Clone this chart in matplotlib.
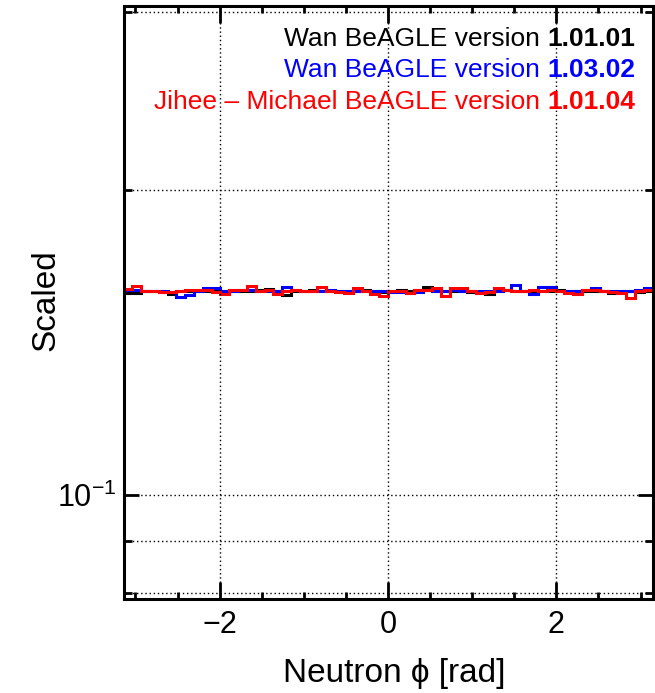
import numpy as np
import matplotlib
matplotlib.use("Agg")
import matplotlib.pyplot as plt
from matplotlib.ticker import FixedLocator, FixedFormatter, NullFormatter

plt.rcParams['font.family'] = ['Liberation Sans', 'DejaVu Sans']
plt.rcParams['mathtext.default'] = 'regular'

# 60 bins in phi from -pi to pi
n_bins = 60
phi_edges = np.linspace(-np.pi, np.pi, n_bins + 1)

# normalised neutron phi distributions, one per BeAGLE version
wan_10101 = [
    0.1583, 0.1584, 0.1590, 0.1589, 0.1587, 0.1580, 0.1588, 0.1590, 0.1591, 0.1589,
    0.1590, 0.1588, 0.1591, 0.1590, 0.1589, 0.1592, 0.1597, 0.1588, 0.1574, 0.1589,
    0.1590, 0.1592, 0.1590, 0.1588, 0.1591, 0.1587, 0.1589, 0.1592, 0.1590, 0.1585,
    0.1589, 0.1594, 0.1591, 0.1593, 0.1606, 0.1590, 0.1588, 0.1591, 0.1590, 0.1587,
    0.1581, 0.1580, 0.1589, 0.1592, 0.1590, 0.1588, 0.1591, 0.1590, 0.1589, 0.1593,
    0.1590, 0.1588, 0.1591, 0.1589, 0.1590, 0.1581, 0.1587, 0.1589, 0.1586, 0.1588,
]
wan_10302 = [
    0.1592, 0.1594, 0.1589, 0.1590, 0.1588, 0.1586, 0.1570, 0.1575, 0.1590, 0.1601,
    0.1600, 0.1591, 0.1589, 0.1592, 0.1593, 0.1590, 0.1591, 0.1589, 0.1604, 0.1592,
    0.1590, 0.1588, 0.1591, 0.1593, 0.1590, 0.1591, 0.1589, 0.1588, 0.1590, 0.1591,
    0.1586, 0.1585, 0.1584, 0.1586, 0.1592, 0.1591, 0.1590, 0.1592, 0.1589, 0.1590,
    0.1588, 0.1591, 0.1590, 0.1595, 0.1611, 0.1590, 0.1578, 0.1606, 0.1605, 0.1590,
    0.1591, 0.1590, 0.1592, 0.1599, 0.1591, 0.1589, 0.1590, 0.1588, 0.1592, 0.1602,
]
jihee_10104 = [
    0.1598, 0.1607, 0.1590, 0.1590, 0.1586, 0.1586, 0.1590, 0.1592, 0.1595, 0.1595,
    0.1585, 0.1578, 0.1595, 0.1592, 0.1607, 0.1590, 0.1592, 0.1580, 0.1590, 0.1592,
    0.1588, 0.1590, 0.1605, 0.1590, 0.1585, 0.1583, 0.1600, 0.1588, 0.1578, 0.1573,
    0.1588, 0.1590, 0.1583, 0.1592, 0.1595, 0.1599, 0.1573, 0.1602, 0.1599, 0.1590,
    0.1583, 0.1585, 0.1599, 0.1595, 0.1590, 0.1588, 0.1592, 0.1590, 0.1592, 0.1590,
    0.1583, 0.1578, 0.1592, 0.1595, 0.1590, 0.1585, 0.1583, 0.1563, 0.1588, 0.1592,
]

series = [
    (wan_10101, 'black', 'Wan BeAGLE version ', '1.01.01'),
    (wan_10302, '#0000ff', 'Wan BeAGLE version ', '1.03.02'),
    (jihee_10104, '#ff0000', 'Jihee \u2013 Michael BeAGLE version ', '1.01.04'),
]

fig = plt.figure(figsize=(6.55, 6.93), dpi=100)
ax = fig.add_axes([123.5 / 655, 94 / 693, 529 / 655, 593 / 693])

for values, color, _, _ in series:
    ax.stairs(values, phi_edges, baseline=None, color=color, linewidth=2.2)

ax.set_xlim(-np.pi, np.pi)
ax.set_yscale('log')
ax.set_ylim(0.0789, 0.304)

# axis ticks, ROOT style: inward, on all four sides
ax.xaxis.set_major_locator(FixedLocator([-2, 0, 2]))
ax.xaxis.set_major_formatter(FixedFormatter(['\u22122', '0', '2']))
ax.xaxis.set_minor_locator(FixedLocator(np.arange(-3, 3.01, 0.5)))
ax.yaxis.set_major_locator(FixedLocator([0.1]))
ax.yaxis.set_major_formatter(FixedFormatter(['$10^{\u22121}$']))
ax.yaxis.set_minor_locator(FixedLocator([0.08, 0.09, 0.2, 0.3]))
ax.yaxis.set_minor_formatter(NullFormatter())

ax.tick_params(which='both', direction='in', top=True, right=True, width=2)
ax.tick_params(axis='x', which='major', length=12, labelsize=22, pad=8)
ax.tick_params(axis='x', which='minor', length=5)
ax.tick_params(axis='y', which='major', length=11, labelsize=22, pad=5)
ax.tick_params(axis='y', which='minor', length=6)

for side in ax.spines.values():
    side.set_linewidth(2.2)

ax.xaxis.grid(True, which='major', color='black', linestyle=(0, (1, 2)), linewidth=1)
ax.yaxis.grid(True, which='both', color='black', linestyle=(0, (1, 2)), linewidth=1)

ax.set_xlabel('Neutron \u03d5 [rad]', fontsize=24, va='center')
ax.xaxis.set_label_coords(0.512, -0.125)
ax.set_ylabel('Scaled', fontsize=24, va='center')
ax.yaxis.set_label_coords(-0.146, 0.504)

# legend: plain label with the version number in bold, right-aligned
baselines = [46, 77, 109]
for (values, color, label, version), y_px in zip(series, baselines):
    bold = ax.text(635 / 655, 1 - y_px / 693, version, transform=fig.transFigure,
                   ha='right', va='baseline', fontsize=19, fontweight='bold', color=color)
    ax.annotate(label, xy=(0, 0), xycoords=bold, ha='right', va='bottom',
                fontsize=19, color=color)

fig.savefig('out.png', dpi=100)
